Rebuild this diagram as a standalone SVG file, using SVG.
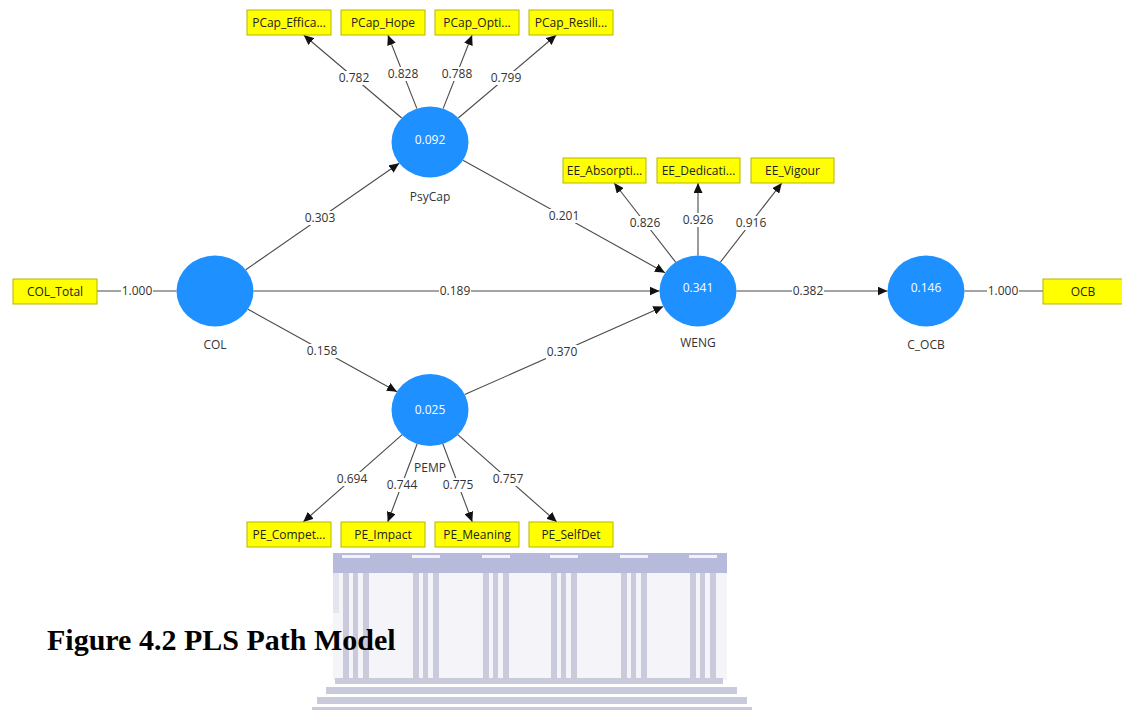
<svg xmlns="http://www.w3.org/2000/svg" width="1122" height="710" viewBox="0 0 1122 710">
<style>
.ln{stroke:#4a4a4a;stroke-width:1.1;fill:none}
.lb{font-family:"Open Sans","DejaVu Sans",sans-serif;font-size:12px;fill:#333;text-anchor:middle}
.bg{fill:#fff}
.lv{fill:#1e90ff}
.vt{font-family:"Open Sans","DejaVu Sans",sans-serif;font-size:12px;fill:#fff;text-anchor:middle}
.nm{font-family:"Open Sans","DejaVu Sans",sans-serif;font-size:12px;fill:#333;text-anchor:middle}
.bx{fill:#ffff00;stroke:#b5b500;stroke-width:1}
.bt{font-family:"Open Sans","DejaVu Sans",sans-serif;font-size:12px;fill:#222;text-anchor:middle}
.wm{fill:#c9cbdc}
.wl{fill:#b7badb}
</style>
<defs>
<marker id="arr" markerWidth="11" markerHeight="9" refX="10" refY="4.5" orient="auto" markerUnits="userSpaceOnUse">
<path d="M0,0 L10,4.5 L0,9 z" fill="#111"/>
</marker>
</defs>
<rect width="1122" height="710" fill="#fff"/>

<g id="watermark">
<rect x="333" y="553" width="394" height="20" class="wl"/>
<rect x="333" y="573" width="394" height="107" fill="#f4f4f9"/>
<rect x="333" y="573" width="6" height="40" fill="#e3e4ee"/>
<g class="wm">
<rect x="343" y="573" width="6" height="107"/><rect x="353" y="573" width="5" height="107"/><rect x="363" y="573" width="6" height="107"/>
<rect x="413" y="573" width="6" height="107"/><rect x="423" y="573" width="5" height="107"/><rect x="433" y="573" width="6" height="107"/>
<rect x="483" y="573" width="6" height="107"/><rect x="493" y="573" width="5" height="107"/><rect x="503" y="573" width="6" height="107"/>
<rect x="551" y="573" width="6" height="107"/><rect x="561" y="573" width="5" height="107"/><rect x="571" y="573" width="6" height="107"/>
<rect x="621" y="573" width="6" height="107"/><rect x="631" y="573" width="5" height="107"/><rect x="641" y="573" width="6" height="107"/>
<rect x="690" y="573" width="6" height="107"/><rect x="700" y="573" width="5" height="107"/><rect x="710" y="573" width="6" height="107"/>
<rect x="335" y="678" width="388" height="6"/>
<rect x="326" y="687" width="411" height="7"/>
<rect x="317" y="697" width="430" height="7"/>
<rect x="312" y="707" width="440" height="3"/>
</g>
<g fill="#f2f2f8">
<rect x="342" y="555" width="28" height="3"/><rect x="412" y="555" width="28" height="3"/><rect x="482" y="555" width="28" height="3"/>
<rect x="550" y="555" width="28" height="3"/><rect x="620" y="555" width="28" height="3"/><rect x="689" y="555" width="28" height="3"/>
</g>
</g>

<g id="connectors">
<line class="ln" x1="97" y1="291" x2="176.5" y2="291"/>
<line class="ln" x1="964.5" y1="291" x2="1043" y2="291"/>
<line class="ln" x1="245.8" y1="269.7" x2="399.2" y2="163.3" marker-end="url(#arr)"/>
<line class="ln" x1="253.5" y1="291" x2="659.5" y2="291" marker-end="url(#arr)"/>
<line class="ln" x1="248" y1="309.3" x2="397" y2="391.7" marker-end="url(#arr)"/>
<line class="ln" x1="463" y1="160.3" x2="665" y2="272.7" marker-end="url(#arr)"/>
<line class="ln" x1="464.7" y1="394.6" x2="663.3" y2="306.4" marker-end="url(#arr)"/>
<line class="ln" x1="736.5" y1="291" x2="887.5" y2="291" marker-end="url(#arr)"/>
<line class="ln" x1="401.7" y1="118" x2="303.7" y2="35" marker-end="url(#arr)"/>
<line class="ln" x1="416.9" y1="108.6" x2="387.9" y2="35" marker-end="url(#arr)"/>
<line class="ln" x1="443.1" y1="108.6" x2="472.1" y2="35" marker-end="url(#arr)"/>
<line class="ln" x1="458.3" y1="118" x2="556.3" y2="35" marker-end="url(#arr)"/>
<line class="ln" x1="675.6" y1="262.1" x2="614.2" y2="183" marker-end="url(#arr)"/>
<line class="ln" x1="698" y1="255.5" x2="698" y2="183" marker-end="url(#arr)"/>
<line class="ln" x1="720.4" y1="262.1" x2="781.8" y2="183" marker-end="url(#arr)"/>
<line class="ln" x1="402.2" y1="434.6" x2="303.2" y2="522" marker-end="url(#arr)"/>
<line class="ln" x1="417.3" y1="443.5" x2="387.7" y2="522" marker-end="url(#arr)"/>
<line class="ln" x1="442.7" y1="443.5" x2="472.3" y2="522" marker-end="url(#arr)"/>
<line class="ln" x1="457.8" y1="434.6" x2="556.8" y2="522" marker-end="url(#arr)"/>
<g class="bg">
<rect x="121" y="284" width="32" height="14"/>
<rect x="987" y="284" width="32" height="14"/>
<rect x="304" y="211" width="32" height="14"/>
<rect x="439" y="284" width="32" height="14"/>
<rect x="306" y="344" width="32" height="14"/>
<rect x="548" y="209" width="32" height="14"/>
<rect x="546" y="345" width="32" height="14"/>
<rect x="792" y="284" width="32" height="14"/>
<rect x="338" y="71" width="32" height="14"/>
<rect x="387" y="67" width="32" height="14"/>
<rect x="441" y="67" width="32" height="14"/>
<rect x="490" y="71" width="32" height="14"/>
<rect x="629" y="216" width="32" height="14"/>
<rect x="682" y="213" width="32" height="14"/>
<rect x="735" y="216" width="32" height="14"/>
<rect x="336" y="472" width="32" height="14"/>
<rect x="386" y="478" width="32" height="14"/>
<rect x="442" y="478" width="32" height="14"/>
<rect x="492" y="472" width="32" height="14"/>
</g>
<text class="lb" x="137" y="295">1.000</text>
<text class="lb" x="1003" y="295">1.000</text>
<text class="lb" x="320" y="222">0.303</text>
<text class="lb" x="455" y="295">0.189</text>
<text class="lb" x="322" y="355">0.158</text>
<text class="lb" x="564" y="220">0.201</text>
<text class="lb" x="562" y="356">0.370</text>
<text class="lb" x="808" y="295">0.382</text>
<text class="lb" x="354" y="82">0.782</text>
<text class="lb" x="403" y="78">0.828</text>
<text class="lb" x="457" y="78">0.788</text>
<text class="lb" x="506" y="82">0.799</text>
<text class="lb" x="645" y="227">0.826</text>
<text class="lb" x="698" y="224">0.926</text>
<text class="lb" x="751" y="227">0.916</text>
<text class="lb" x="352" y="483">0.694</text>
<text class="lb" x="402" y="489">0.744</text>
<text class="lb" x="458" y="489">0.775</text>
<text class="lb" x="508" y="483">0.757</text>
</g>

<g id="COL"><ellipse class="lv" cx="215" cy="291" rx="38.5" ry="35.5"/><text class="nm" x="215" y="349">COL</text></g>
<g id="PsyCap"><ellipse class="lv" cx="430" cy="142" rx="38.5" ry="35.5"/><text class="vt" x="430" y="144">0.092</text><text class="nm" x="430" y="201">PsyCap</text></g>
<g id="WENG"><ellipse class="lv" cx="698" cy="291" rx="38.5" ry="35.5"/><text class="vt" x="698" y="292">0.341</text><text class="nm" x="698" y="347">WENG</text></g>
<g id="C_OCB"><ellipse class="lv" cx="926" cy="291" rx="38.5" ry="35.5"/><text class="vt" x="926" y="292">0.146</text><text class="nm" x="926" y="349">C_OCB</text></g>
<g id="PEMP"><ellipse class="lv" cx="430" cy="410" rx="38.5" ry="36"/><text class="vt" x="430" y="414">0.025</text><text class="nm" x="430" y="472">PEMP</text></g>

<g id="COL_Total"><rect class="bx" x="13" y="279" width="84" height="25"/><text class="bt" x="55" y="296">COL_Total</text></g>
<g id="OCB"><rect class="bx" x="1043" y="279" width="80" height="25"/><text class="bt" x="1083" y="296">OCB</text></g>
<g id="PCap_Efficacy"><rect class="bx" x="247" y="10" width="84" height="25"/><text class="bt" x="289" y="27">PCap_Effica...</text></g>
<g id="PCap_Hope"><rect class="bx" x="341" y="10" width="84" height="25"/><text class="bt" x="383" y="27">PCap_Hope</text></g>
<g id="PCap_Optimism"><rect class="bx" x="435" y="10" width="84" height="25"/><text class="bt" x="477" y="27">PCap_Opti...</text></g>
<g id="PCap_Resilience"><rect class="bx" x="529" y="10" width="84" height="25"/><text class="bt" x="571" y="27">PCap_Resili...</text></g>
<g id="EE_Absorption"><rect class="bx" x="563" y="158" width="83" height="25"/><text class="bt" x="604.5" y="175">EE_Absorpti...</text></g>
<g id="EE_Dedication"><rect class="bx" x="657" y="158" width="83" height="25"/><text class="bt" x="698.5" y="175">EE_Dedicati...</text></g>
<g id="EE_Vigour"><rect class="bx" x="751" y="158" width="83" height="25"/><text class="bt" x="792.5" y="175">EE_Vigour</text></g>
<g id="PE_Competence"><rect class="bx" x="247" y="522" width="84" height="25"/><text class="bt" x="289" y="539">PE_Compet...</text></g>
<g id="PE_Impact"><rect class="bx" x="341" y="522" width="84" height="25"/><text class="bt" x="383" y="539">PE_Impact</text></g>
<g id="PE_Meaning"><rect class="bx" x="435" y="522" width="84" height="25"/><text class="bt" x="477" y="539">PE_Meaning</text></g>
<g id="PE_SelfDet"><rect class="bx" x="529" y="522" width="84" height="25"/><text class="bt" x="571" y="539">PE_SelfDet</text></g>

<text x="47" y="650" font-family="'Liberation Serif','Times New Roman',serif" font-weight="bold" font-size="30" fill="#000">Figure 4.2 PLS Path Model</text>
</svg>
